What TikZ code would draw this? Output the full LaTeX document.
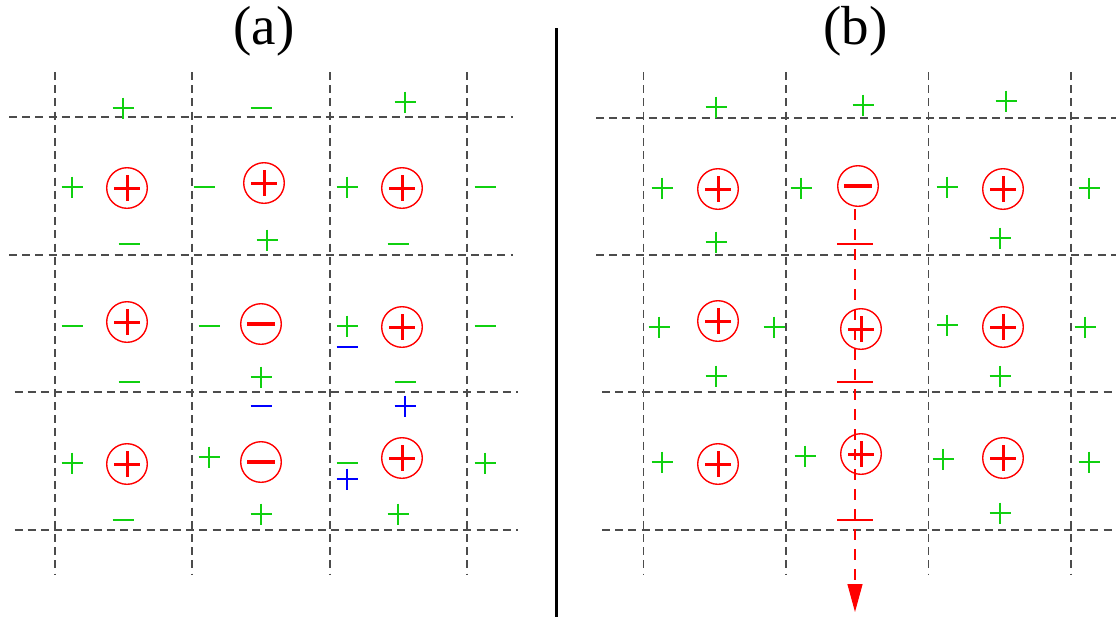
\documentclass[tikz,border=0pt]{standalone}
\usepackage{fontspec}
\setmainfont{Liberation Serif}
\usepackage{tikz}
\usetikzlibrary{arrows.meta, positioning, calc}
\definecolor{chgreen}{HTML}{10D010}
\definecolor{chblue}{HTML}{0000FF}
\definecolor{chred}{HTML}{FF0000}
\tikzset{
  pos/.pic={\draw (-10.5,0) -- (10.5,0) (0,-10.5) -- (0,10.5);},
  neg/.pic={\draw (-10.5,0) -- (10.5,0);},
  bar/.pic={\draw (-18,0) -- (18,0);},
}

\begin{document}
\begin{tikzpicture}[x=0.5pt, y=-0.5pt,
  grid/.style={black!70, line width=0.65pt, dash pattern=on 4pt off 2.6pt},
  ion/.style={circle, draw=chred, line width=0.7pt, minimum size=20.3pt, inner sep=0pt},
  ionpos/.style={ion, path picture={
      \draw[chred, line width=1.5pt]
        ([xshift=-6.3pt]path picture bounding box.center) -- ++(12.6pt,0)
        ([yshift=-6.3pt]path picture bounding box.center) -- ++(0,12.6pt);}},
  ionneg/.style={ion, path picture={
      \draw[chred, line width=2.2pt]
        ([xshift=-7pt]path picture bounding box.center) -- ++(14pt,0);}},
  gsign/.style={chgreen, line width=1.35pt},
  bsign/.style={chblue, line width=1.35pt},
  flux/.style={chred, line width=0.6pt, dash pattern=on 5.5pt off 4.5pt,
    -{Triangle[length=14pt, width=7.5pt]}},
  ttl/.style={font=\fontsize{27.5}{30}\selectfont, anchor=base, inner sep=0pt},
]
  \useasboundingbox (0,0) rectangle (1116,617);

  % titles and divider
  \node[ttl] (ta) at (264,44) {(a)};
  \node[ttl] (tb) at (855.5,44) {(b)};
  \draw[line width=1.5pt] (556,28) -- (556,617);

  % dashed cells
  \foreach \gx in {55,192,330,467,643.5,786,928.5,1071}
    \draw[grid] (\gx,72) -- (\gx,575);
  \foreach \gy in {117,255}
    \draw[grid] (9,\gy) -- (513,\gy);
  \foreach \gy in {392,530}
    \draw[grid] (14.5,\gy) -- (518,\gy);
  \foreach \gy in {118,255}
    \draw[grid] (596,\gy) -- (1116,\gy);
  \foreach \gy in {392,530}
    \draw[grid] (602,\gy) -- (1116,\gy);

  % (a) ions
  \node[ionpos] (ca11) at (127,188) {};
  \node[ionpos] (ca12) at (264,183) {};
  \node[ionpos] (ca13) at (402,188) {};
  \node[ionpos] (ca21) at (127,322) {};
  \node[ionneg] (ca22) at (261,324) {};
  \node[ionpos] (ca23) at (402,327) {};
  \node[ionpos] (ca31) at (127,464) {};
  \node[ionneg] (ca32) at (261,462) {};
  \node[ionpos] (ca33) at (402,458) {};

  % (a) charges
  \foreach \p in {(123,108),(405,102),(72,187),(347,187),(267,240),(347,326),
                  (261,377),(72,463),(209,457),(485,463),(261,514),(398,514)}
    \pic[gsign] at \p {pos};
  \foreach \p in {(261,108),(204,187),(485,187),(129,244),(398,244),(72,326),
                  (209,326),(485,326),(129,382),(405,382),(347,463),(123,520)}
    \pic[gsign] at \p {neg};
  \foreach \p in {(347,347),(261,406)}
    \pic[bsign] at \p {neg};
  \foreach \p in {(405,406),(347,479)}
    \pic[bsign] at \p {pos};

  % (b) ions
  \node[ionpos] (cb11) at (718,189) {};
  \node[ionneg] (cb12) at (858,186) {};
  \node[ionpos] (cb13) at (1003,189) {};
  \node[ionpos] (cb21) at (718,321) {};
  \node[ionpos] (cb22) at (861,329) {};
  \node[ionpos] (cb23) at (1003,327) {};
  \node[ionpos] (cb31) at (718,464) {};
  \node[ionpos] (cb32) at (861,454) {};
  \node[ionpos] (cb33) at (1003,458) {};

  % (b) charges
  \foreach \p in {(716,107),(863,105),(1006,101),(662,188),(801,188),(947,187),
                  (1089,188),(716,242),(1000,238),(659,327),(774,327),(947,325),
                  (1085,327),(716,376),(1000,376),(662,462),(805,456),(943,459),
                  (1089,462),(1000,513)}
    \pic[gsign] at \p {pos};

  % flux through the column
  \coordinate (tip) at (855,612);
  \draw[flux] ([yshift=-1pt]cb12.south -| tip) -- (tip);
  \foreach \by in {244,382,520}
    \pic[chred, line width=0.6pt] at (855,\by) {bar};
\end{tikzpicture}
\end{document}
